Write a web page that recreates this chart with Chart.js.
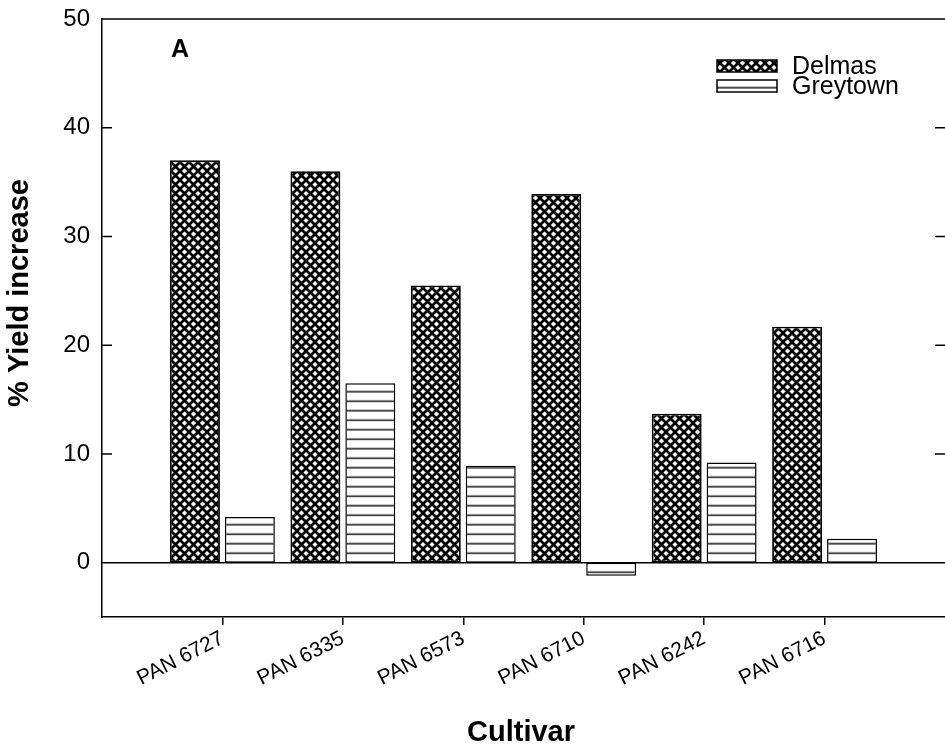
<!DOCTYPE html>
<html>
<head>
<meta charset="utf-8">
<script src="https://cdn.jsdelivr.net/npm/chart.js@4.4.1/dist/chart.umd.min.js"></script>
<style>
  html, body { margin: 0; padding: 0; background: #fff; }
  canvas { display: block; }
</style>
</head>
<body>
<canvas id="yieldChart" width="945" height="752"></canvas>
<script>
// values
const cultivars = ['PAN 6727', 'PAN 6335', 'PAN 6573', 'PAN 6710', 'PAN 6242', 'PAN 6716'];
const delmas = [37.0, 36.0, 25.5, 33.9, 13.7, 21.7];
const greytown = [4.2, 16.5, 8.9, -1.2, 9.2, 2.2];
const yTicks = [0, 10, 20, 30, 40, 50];

const FONT = 'Arial, "Liberation Sans", sans-serif';
Chart.defaults.font.family = FONT;
Chart.defaults.color = '#000';

const canvas = document.getElementById('yieldChart');
const ctx = canvas.getContext('2d');

// diamond cross-hatch (Delmas)
function makeCross() {
  const n = 9;
  const c = document.createElement('canvas');
  c.width = n; c.height = n;
  const g = c.getContext('2d');
  g.fillStyle = '#fff';
  g.fillRect(0, 0, n, n);
  g.strokeStyle = '#000';
  g.lineWidth = 2.7;
  for (const k of [-n, 0, n]) {
    g.beginPath();
    g.moveTo(k - 2, -2); g.lineTo(k + n + 2, n + 2);
    g.moveTo(k + n + 2, -2); g.lineTo(k - 2, n + 2);
    g.stroke();
  }
  return ctx.createPattern(c, 'repeat');
}

// horizontal lines (Greytown), two lines per 19px tile
function makeLines() {
  const c = document.createElement('canvas');
  c.width = 4; c.height = 19;
  const g = c.getContext('2d');
  g.fillStyle = '#fff';
  g.fillRect(0, 0, 4, 19);
  g.fillStyle = '#000';
  g.fillRect(0, 3.3, 4, 1.4);
  g.fillRect(0, 12.8, 4, 1.4);
  return ctx.createPattern(c, 'repeat');
}

const crossPat = makeCross();
const linesPat = makeLines();

// pad one empty slot each side so the categories sit at 1..6
const labels = ['', ...cultivars, ''];
const pad = arr => [null, ...arr, null];

const framePlugin = {
  id: 'frame',
  beforeDatasetsDraw(chart) {
    const z = chart.scales.y.getPixelForValue(0);
    linesPat.setTransform(new DOMMatrix().translate(0, z - 4));
  },
  afterDatasetsDraw(chart) {
    const c = chart.ctx;
    const {left, right, top} = chart.chartArea;
    const y = chart.scales.y;
    c.save();
    c.strokeStyle = '#000';
    c.lineWidth = 1.5;
    // zero line
    const z = y.getPixelForValue(0);
    c.beginPath();
    c.moveTo(left, z); c.lineTo(right, z);
    // top border
    c.moveTo(left, top); c.lineTo(right, top);
    // inward ticks, left and right
    yTicks.forEach(v => {
      const py = y.getPixelForValue(v);
      c.moveTo(left, py); c.lineTo(left + 10, py);
      c.moveTo(right - 10, py); c.lineTo(right, py);
    });
    c.stroke();
    c.restore();
  },
  afterDraw(chart) {
    const c = chart.ctx;
    c.save();
    c.fillStyle = '#000';
    // panel letter
    c.font = 'bold 25px ' + FONT;
    c.textAlign = 'left';
    c.textBaseline = 'alphabetic';
    c.fillText('A', 171, 57);

    // legend
    const items = [['Delmas', crossPat, 60], ['Greytown', linesPat, 80]];
    c.font = '25px ' + FONT;
    c.textBaseline = 'middle';
    c.strokeStyle = '#000';
    c.lineWidth = 1.5;
    items.forEach(([name, pat, yy]) => {
      c.fillStyle = pat;
      c.fillRect(717, yy, 60, 12);
      c.strokeRect(717, yy, 60, 12);
      c.fillStyle = '#000';
      c.fillText(name, 792, yy + 7);
    });

    // axis titles
    c.font = 'bold 29px ' + FONT;
    c.textAlign = 'center';
    c.textBaseline = 'middle';
    c.fillText('Cultivar', 521, 733);
    c.translate(20, 293);
    c.rotate(-Math.PI / 2);
    c.fillText('% Yield increase', 0, 0);
    c.restore();
  }
};

new Chart(ctx, {
  type: 'bar',
  data: {
    labels: labels,
    datasets: [{
      label: 'Delmas',
      data: pad(delmas),
      backgroundColor: crossPat,
      borderColor: '#000',
      borderWidth: 1.8,
      borderSkipped: false
    }, {
      label: 'Greytown',
      data: pad(greytown),
      backgroundColor: linesPat,
      borderColor: '#000',
      borderWidth: 1.5,
      borderSkipped: false
    }]
  },
  options: {
    responsive: false,
    animation: false,
    barPercentage: 0.909,
    categoryPercentage: 0.912,
    layout: { padding: { top: 19, right: -3, left: 0, bottom: 0 } },
    plugins: {
      legend: { display: false },
      tooltip: { enabled: false }
    },
    scales: {
      x: {
        offset: false,
        grid: {
          display: true,
          offset: false,
          drawOnChartArea: false,
          drawTicks: true,
          tickLength: 8,
          lineWidth: 1.5,
          color: c => (c.index === 0 || c.index === labels.length - 1) ? 'rgba(0,0,0,0)' : '#000'
        },
        border: { display: true, color: '#000', width: 1.5 },
        ticks: {
          autoSkip: false,
          minRotation: 27,
          maxRotation: 27,
          padding: 1,
          font: { size: 21 }
        },
        afterFit: s => { s.height = 135; s.paddingLeft = 0; s.paddingRight = 0; }
      },
      y: {
        min: -5,
        max: 50,
        grid: { display: false, drawTicks: false },
        border: { display: true, color: '#000', width: 1.5 },
        ticks: { padding: 12, font: { size: 24 } },
        afterBuildTicks: s => { s.ticks = yTicks.map(v => ({ value: v })); },
        afterFit: s => { s.width = 102; s.paddingTop = 0; s.paddingBottom = 0; }
      }
    }
  },
  plugins: [framePlugin]
});
</script>
</body>
</html>
